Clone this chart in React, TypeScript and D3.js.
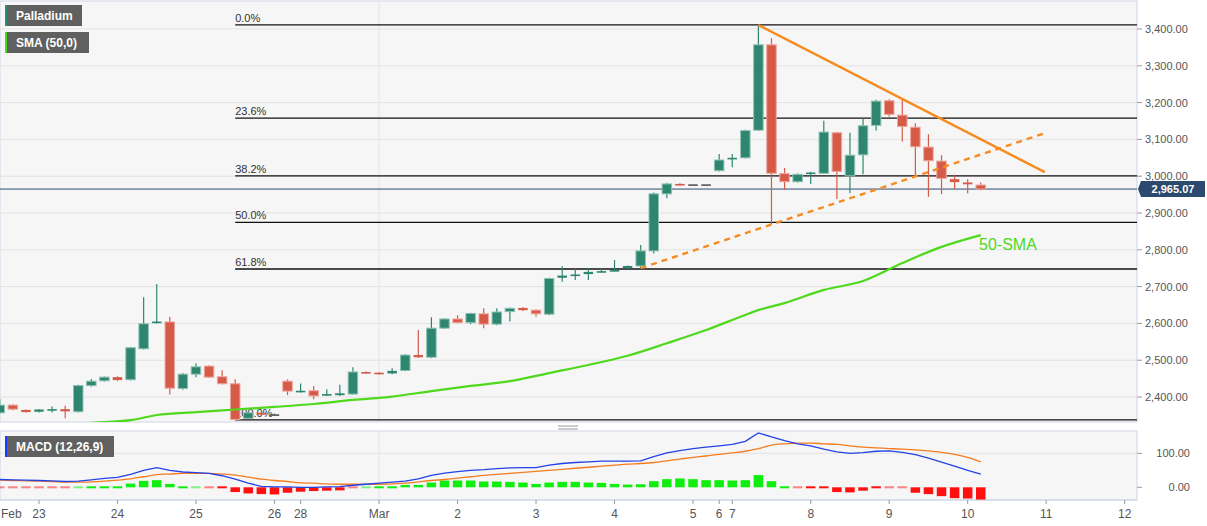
import React from "react";
import * as d3 from "d3";

const W = 1207;
const H = 526;

// Candles (4h), index -3 .. 72 ; index 0 = Feb 23
const START_IDX = -3;
const opens = [
  2357, 2378, 2365,
  2360, 2364, 2367, 2360, 2431, 2444,
  2454, 2447, 2531, 2602, 2604, 2423,
  2462, 2484, 2455, 2436, 2342, 2357,
  2353, 2443, 2414, 2417, 2405, 2405,
  2408, 2468, 2466, 2464, 2472, 2514,
  2508, 2587, 2612, 2602, 2626, 2598,
  2632, 2642, 2636, 2625, 2724, 2731,
  2734, 2740, 2742, 2750, 2756, 2797,
  2952, 2979, 2978, 2978, 3015, 3046,
  3050, 3125, 3357, 3007, 2985, 3006,
  3008, 3118, 3001, 3058, 3138, 3205,
  3166, 3133, 3079, 3041, 2992, 2983,
  2976,
];
const highs = [
  2394, 2380, 2366,
  2367, 2374, 2376, 2433, 2449, 2456,
  2456, 2536, 2671, 2707, 2618, 2465,
  2492, 2486, 2473, 2448, 2360, 2360,
  2355, 2448, 2437, 2430, 2421, 2433,
  2481, 2469, 2467, 2478, 2516, 2582,
  2617, 2614, 2622, 2629, 2641, 2641,
  2643, 2644, 2638, 2724, 2755, 2748,
  2749, 2749, 2772, 2757, 2813, 2956,
  2982, 2981, 2978, 2978, 3060, 3060,
  3126, 3411, 3375, 3022, 3007, 3012,
  3151, 3120, 3118, 3157, 3208, 3209,
  3209, 3144, 3114, 3057, 3004, 2992,
  2983,
];
const lows = [
  2355, 2364, 2358,
  2358, 2358, 2342, 2358, 2428, 2442,
  2444, 2445, 2529, 2600, 2407, 2420,
  2454, 2452, 2434, 2337, 2340, 2349,
  2351, 2405, 2412, 2394, 2403, 2403,
  2406, 2463, 2462, 2462, 2470, 2506,
  2505, 2585, 2600, 2598, 2587, 2595,
  2605, 2634, 2619, 2622, 2713, 2718,
  2718, 2738, 2741, 2748, 2750, 2790,
  2940, 2975, 2978, 2978, 3013, 3024,
  3048, 3123, 2870, 2963, 2983, 2979,
  3006, 2938, 2954, 3005, 3124, 3162,
  3094, 2999, 2944, 2951, 2965, 2954,
  2962,
];
const closes = [
  2378, 2367, 2359,
  2366, 2367, 2361, 2431, 2443, 2454,
  2446, 2534, 2599, 2605, 2424, 2462,
  2482, 2454, 2436, 2339, 2357, 2352,
  2353, 2416, 2417, 2403, 2408, 2410,
  2468, 2464, 2463, 2471, 2514, 2508,
  2587, 2612, 2602, 2627, 2598, 2631,
  2641, 2636, 2626, 2722, 2730, 2733,
  2740, 2742, 2745, 2756, 2797, 2952,
  2979, 2976, 2978, 2978, 3044, 3050,
  3124, 3357, 3008, 2985, 3005, 3010,
  3120, 3013, 3057, 3137, 3204, 3168,
  3135, 3080, 3042, 2994, 2984, 2978,
  2965.07,
];

// 50-SMA samples (candle index, value)
const smaIdx = [3, 5, 7, 9, 12, 15, 18, 21, 24, 27, 30, 33, 36, 39, 42, 45, 48, 51, 54, 55, 57, 60, 63, 66, 69, 72];
const smaVal = [2327, 2332, 2337, 2351, 2359, 2366, 2373, 2381, 2392, 2401, 2416, 2430, 2443, 2465, 2487, 2512, 2546, 2582, 2623, 2636, 2655, 2691, 2715, 2764, 2808, 2840];

// MACD (12,26,9), index -3 .. 72
const macdLine = [
  23, 22, 21,
  20, 19, 17, 18, 22, 26,
  29, 38, 50, 58, 50, 45,
  43, 41, 34, 24, 12, 3,
  1, 1, 0, 0, 1, 2,
  6, 9, 12, 15, 18, 25,
  35, 42, 46, 50, 52, 55,
  57, 58, 58, 65, 70, 73,
  75, 77, 77, 77, 78, 90,
  101, 108, 114, 118, 122, 126,
  135, 160, 148, 137, 128, 122,
  112, 104, 100, 102, 106, 107,
  103, 96, 86, 74, 62, 50,
  39,
];
const signalLine = [
  21, 20, 19,
  18, 17, 15, 15, 16, 18,
  21, 25, 31, 37, 39, 41,
  41, 41, 39, 36, 30, 24,
  20, 17, 13, 12, 10, 9,
  9, 9, 9, 10, 12, 16,
  20, 23, 27, 31, 35, 38,
  41, 44, 47, 50, 53, 56,
  59, 62, 65, 68, 70, 73,
  78, 83, 88, 92, 97, 101,
  106, 114, 124, 128, 130, 130,
  128, 126, 122, 118, 116, 114,
  112, 110, 107, 103, 97, 88,
  75,
];
const histogram = [
  -0.5, -2, -2,
  -2, -2.5, -2.5, 0.5, 3, 4,
  5, 11, 19, 21, 10, 4,
  2, -1, -4, -14, -18, -20,
  -21, -16, -13, -11, -10, -9,
  -1, 1, 3, 4, 7, 7,
  14, 20, 20, 20, 17, 17,
  16, 14, 10, 14, 16, 16,
  14, 13, 10, 8, 9, 18,
  24, 26, 24, 21, 21, 20,
  21, 36, 18, 5, -2, -5,
  -3, -14, -15, -10, -4, -1,
  -2, -16, -20, -26, -32, -33,
  -38,
];

// Axis
const priceTicks = [2400, 2500, 2600, 2700, 2800, 2900, 3000, 3100, 3200, 3300, 3400];
const macdTicks = [0, 100];
const xTickIdx = [0, 6, 12, 18, 20, 26, 32, 38, 44, 50, 52, 53, 59, 65, 71, 77, 83];
const xTickLabels = ["23", "24", "25", "26", "28", "Mar", "2", "3", "4", "5", "6", "7", "8", "9", "10", "11", "12"];

// Fibonacci retracement
const fibHigh = 3411;
const fibLow = 2338;
const fibRatios = [0, 0.236, 0.382, 0.5, 0.618, 1];
const fibLabels = ["0.0%", "23.6%", "38.2%", "50.0%", "61.8%", "100.0%"];
const fibStartIdx = 15;

// Trend lines
const resIdx = [55, 76.9];
const resVal = [3411, 3011];
const supIdx = [46, 76.9];
const supVal = [2750, 3117];

const lastPrice = 2965.07;

const FONT = "'Liberation Sans', Arial, sans-serif";
const GREEN = "#2f8670";
const GREEN_EDGE = "#8fc2b4";
const RED = "#d65a48";
const RED_EDGE = "#eda79d";

export default function App() {
  const plotL = 0;
  const plotR = 1137;
  const mainT = 1;
  const mainB = 422;
  const macdT = 431;
  const macdB = 500;

  const x = d3.scaleLinear().domain([0, 72]).range([39, 39 + 72 * 13.08]);
  const y = d3.scaleLinear().domain([2400, 3400]).range([397, 29]);
  const my = d3.scaleLinear().domain([0, 100]).range([487.3, 453.3]);
  const fmt = d3.format(",.2f");
  const bw = 9.5;

  const candles = opens.map((o, k) => ({
    i: START_IDX + k,
    o,
    h: highs[k],
    l: lows[k],
    c: closes[k],
  }));

  const smaPath = d3
    .line<number>()
    .x((_, k) => x(smaIdx[k]))
    .y((v) => y(v))
    .curve(d3.curveMonotoneX)(smaVal) as string;

  const macdPath = d3
    .line<number>()
    .x((_, k) => x(START_IDX + k))
    .y((v) => my(v))(macdLine) as string;
  const sigPath = d3
    .line<number>()
    .x((_, k) => x(START_IDX + k))
    .y((v) => my(v))
    .curve(d3.curveMonotoneX)(signalLine) as string;

  const fibLevels = fibRatios.map((r) => fibHigh - r * (fibHigh - fibLow));

  return (
    <svg
      width={W}
      height={H}
      style={{ position: "absolute", left: 0, top: 0, background: "#ffffff" }}
      fontFamily={FONT}
    >
      <defs>
        <clipPath id="mainClip">
          <rect x={plotL} y={mainT} width={plotR - plotL} height={mainB - mainT} />
        </clipPath>
        <clipPath id="macdClip">
          <rect x={plotL} y={macdT} width={plotR - plotL} height={macdB - macdT} />
        </clipPath>
      </defs>

      {/* panel backgrounds */}
      <rect x={plotL} y={mainT} width={plotR - plotL} height={mainB - mainT} fill="#f6f6f6" stroke="#cfd5e6" />
      <rect x={plotL} y={macdT} width={plotR - plotL} height={macdB - macdT} fill="#f6f6f6" stroke="#cfd5e6" />

      {/* main grid */}
      {priceTicks.map((t) => (
        <line key={"g" + t} x1={plotL} x2={plotR} y1={y(t)} y2={y(t)} stroke="#e3e3e3" strokeWidth={1} />
      ))}
      <line x1={x(26)} x2={x(26)} y1={mainT} y2={mainB} stroke="#e3e3e3" />
      <line x1={x(26)} x2={x(26)} y1={macdT} y2={macdB} stroke="#e3e3e3" />
      {macdTicks.filter((t) => t !== 0).map((t) => (
        <line key={"mg" + t} x1={plotL} x2={plotR} y1={my(t)} y2={my(t)} stroke="#e3e3e3" />
      ))}

      <g clipPath="url(#mainClip)">
        {/* fib levels */}
        {fibLevels.map((v, k) => (
          <g key={"fib" + k}>
            <line x1={x(fibStartIdx)} x2={plotR} y1={y(v)} y2={y(v)} stroke="#111" strokeWidth={1.3} />
            <text x={x(fibStartIdx)} y={y(v) - 3} fontSize={11} fill="#333">
              {fibLabels[k]}
            </text>
          </g>
        ))}

        {/* last price line */}
        <line x1={plotL} x2={plotR} y1={y(lastPrice)} y2={y(lastPrice)} stroke="#2c4a6e" strokeWidth={1} />

        {/* candles */}
        {candles.map((d) => {
          const up = d.c > d.o;
          const down = d.c < d.o;
          const col = up ? GREEN : down ? RED : "#555";
          const edge = up ? GREEN_EDGE : down ? RED_EDGE : "#999";
          const top = y(Math.max(d.o, d.c));
          const bot = y(Math.min(d.o, d.c));
          const hgt = Math.max(bot - top, 1.6);
          const cx = x(d.i);
          return (
            <g key={"c" + d.i}>
              <line x1={cx} x2={cx} y1={y(d.h)} y2={y(d.l)} stroke={col} strokeWidth={1.2} />
              <rect x={cx - bw / 2} y={top} width={bw} height={hgt} fill={col} stroke={edge} strokeWidth={hgt > 3 ? 1 : 0} />
            </g>
          );
        })}

        {/* 50-SMA */}
        <path d={smaPath} fill="none" stroke="#4fd91c" strokeWidth={2.2} />

        {/* trend lines */}
        <line x1={x(resIdx[0])} y1={y(resVal[0])} x2={x(resIdx[1])} y2={y(resVal[1])} stroke="#f68b1f" strokeWidth={2.4} />
        <line
          x1={x(supIdx[0])}
          y1={y(supVal[0])}
          x2={x(supIdx[1])}
          y2={y(supVal[1])}
          stroke="#f68b1f"
          strokeWidth={2.4}
          strokeDasharray="6,5"
        />
      </g>

      <text x={979} y={250} fontSize={16} fill="#4fd91c">
        50-SMA
      </text>

      {/* MACD panel */}
      <g clipPath="url(#macdClip)">
        {histogram.map((v, k) => {
          const cx = x(START_IDX + k);
          const y0 = my(0);
          const yv = my(v);
          let top = Math.min(y0, yv);
          let hgt = Math.abs(yv - y0);
          if (hgt < 2) {
            hgt = 2;
            top = y0 - 1;
          }
          const pale = Math.abs(v) < 3;
          return (
            <rect
              key={"h" + k}
              x={cx - bw / 2}
              y={top}
              width={bw}
              height={hgt}
              fill={v >= 0 ? "#10ee10" : "#ff1010"}
              opacity={pale ? 0.5 : 1}
            />
          );
        })}
        <path d={sigPath} fill="none" stroke="#f57c1f" strokeWidth={1.3} />
        <path d={macdPath} fill="none" stroke="#2342e8" strokeWidth={1.3} />
      </g>

      {/* right axis main */}
      {priceTicks.map((t) => (
        <g key={"yt" + t}>
          <line x1={plotR} x2={plotR + 5} y1={y(t)} y2={y(t)} stroke="#999" />
          <text x={plotR + 8} y={y(t) + 4} fontSize={11} fill="#555">
            {fmt(t)}
          </text>
        </g>
      ))}
      {/* last price tag */}
      <path
        d={`M${plotR + 1},${y(lastPrice)} L${plotR + 4},${y(lastPrice) - 8} L${plotR + 68},${y(lastPrice) - 8} L${plotR + 68},${y(lastPrice) + 8} L${plotR + 4},${y(lastPrice) + 8} Z`}
        fill="#2c4a6e"
      />
      <text x={plotR + 36} y={y(lastPrice) + 4} fontSize={11} fontWeight="bold" fill="#fff" textAnchor="middle">
        {fmt(lastPrice)}
      </text>

      {/* right axis macd */}
      {macdTicks.map((t) => (
        <g key={"mt" + t}>
          <line x1={plotR} x2={plotR + 5} y1={my(t)} y2={my(t)} stroke="#999" />
          <text x={1190} y={my(t) + 4} fontSize={11} fill="#555" textAnchor="end">
            {fmt(t)}
          </text>
        </g>
      ))}

      {/* x axis */}
      <line x1={plotL} x2={plotR} y1={macdB} y2={macdB} stroke="#cfd5e6" />
      <text x={1} y={518} fontSize={12} fill="#555">
        Feb
      </text>
      {xTickIdx.map((t, k) => (
        <g key={"xt" + t}>
          <line x1={x(t)} x2={x(t)} y1={macdB} y2={macdB + 4} stroke="#999" />
          <text x={x(t)} y={518} fontSize={12} fill="#555" textAnchor="middle">
            {xTickLabels[k]}
          </text>
        </g>
      ))}

      {/* splitter */}
      <line x1={558} x2={578} y1={426} y2={426} stroke="#999" />
      <line x1={558} x2={578} y1={429} y2={429} stroke="#999" />

      {/* legends */}
      <rect x={5} y={5} width={77} height={21} fill="#606060" />
      <rect x={5} y={5} width={2} height={21} fill="#2e8b7a" />
      <text x={16} y={20} fontSize={12} fontWeight="bold" fill="#fff">
        Palladium
      </text>
      <rect x={5} y={32} width={84} height={21} fill="#606060" />
      <rect x={5} y={32} width={2} height={21} fill="#44dd11" />
      <text x={16} y={47} fontSize={12} fontWeight="bold" fill="#fff">
        SMA (50,0)
      </text>
      <rect x={5} y={436} width={109} height={21} fill="#606060" />
      <rect x={5} y={436} width={2} height={21} fill="#1a3cff" />
      <text x={16} y={451} fontSize={12} fontWeight="bold" fill="#fff">
        MACD (12,26,9)
      </text>
    </svg>
  );
}
